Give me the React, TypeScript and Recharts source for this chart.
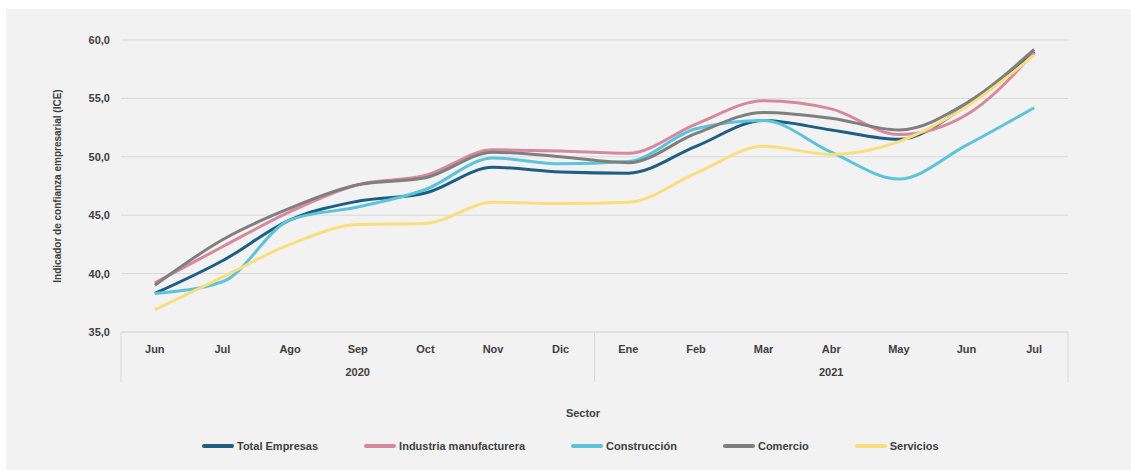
import React from "react";
import { ComposedChart, Line, XAxis, YAxis, CartesianGrid, Legend } from "recharts";

const months = ["Jun", "Jul", "Ago", "Sep", "Oct", "Nov", "Dic", "Ene", "Feb", "Mar", "Abr", "May", "Jun", "Jul"];
const years = ["2020", "2020", "2020", "2020", "2020", "2020", "2020", "2021", "2021", "2021", "2021", "2021", "2021", "2021"];
const yTicks = [35, 40, 45, 50, 55, 60];

const totalEmpresas = [38.3, 41.1, 44.6, 46.2, 46.9, 49.1, 48.7, 48.6, 50.9, 53.1, 52.3, 51.5, 54.4, 59.0];
const industria = [39.2, 42.3, 45.3, 47.6, 48.4, 50.6, 50.5, 50.3, 52.8, 54.8, 54.1, 51.9, 53.6, 58.9];
const construccion = [38.3, 39.3, 44.6, 45.7, 47.2, 49.9, 49.4, 49.6, 52.4, 53.1, 50.4, 48.1, 51.0, 54.2];
const comercio = [39.0, 42.9, 45.6, 47.6, 48.2, 50.4, 50.0, 49.5, 52.0, 53.8, 53.3, 52.3, 54.6, 59.2];
const servicios = [36.9, 39.7, 42.5, 44.2, 44.3, 46.1, 46.0, 46.1, 48.6, 50.9, 50.2, 51.3, 54.3, 58.7];

const series = [
  { key: "total", name: "Total Empresas", color: "#1D5E82", values: totalEmpresas },
  { key: "industria", name: "Industria manufacturera", color: "#D7889F", values: industria },
  { key: "construccion", name: "Construcción", color: "#5BC3DA", values: construccion },
  { key: "comercio", name: "Comercio", color: "#7F7F7F", values: comercio },
  { key: "servicios", name: "Servicios", color: "#F8DF7C", values: servicios },
];

const data = months.map((m, i) => {
  const row: Record<string, string | number> = { period: `${m} ${years[i]}`, month: m, year: years[i] };
  series.forEach((s) => (row[s.key] = s.values[i]));
  return row;
});

const W = 1125;
const H = 461;
const margin = { top: 31, right: 63, left: 45, bottom: 88 };
const Y_AXIS_W = 70;
const FONT = "'Liberation Sans', Arial, sans-serif";
const TEXT = "#404040";
const GRID = "#D9D9D9";

// half of one month's slot, so points sit in the middle of each slot
const halfBand = (W - margin.left - Y_AXIS_W - margin.right) / months.length / 2;

function MonthTick(props: any) {
  const { x, y, index } = props;
  const yr = years[index];
  const first = years.indexOf(yr);
  const last = years.lastIndexOf(yr);
  const mid = (first + last) / 2;
  return (
    <g>
      <text x={x} y={y + 18} textAnchor="middle" dominantBaseline="middle" fill={TEXT} fontSize={11} fontWeight="bold" fontFamily={FONT}>
        {months[index]}
      </text>
      {index === mid && (
        <text x={x} y={y + 41} textAnchor="middle" dominantBaseline="middle" fill={TEXT} fontSize={11} fontWeight="bold" fontFamily={FONT}>
          {yr}
        </text>
      )}
      {index === first && <line x1={x - halfBand} x2={x - halfBand} y1={y} y2={y + 50} stroke={GRID} />}
      {index === months.length - 1 && <line x1={x + halfBand} x2={x + halfBand} y1={y} y2={y + 50} stroke={GRID} />}
    </g>
  );
}

function LegendBox() {
  return (
    <div style={{ position: "relative", width: W, height: 60, fontFamily: FONT, color: TEXT, fontWeight: "bold", fontSize: 11 }}>
      <div style={{ position: "absolute", left: 577, top: 4, transform: "translateX(-50%)" }}>Sector</div>
      <div style={{ position: "absolute", left: 196, top: 36, display: "flex", gap: 46, alignItems: "center" }}>
        {series.map((s) => (
          <div key={s.key} style={{ display: "flex", alignItems: "center", gap: 3 }}>
            <span style={{ display: "inline-block", width: 32, height: 4, background: s.color, borderRadius: 2 }} />
            <span style={{ lineHeight: "14px" }}>{s.name}</span>
          </div>
        ))}
      </div>
    </div>
  );
}

export default function App() {
  return (
    <div style={{ position: "absolute", left: 0, top: 0, width: 1131, height: 470, background: "#FFFFFF" }}>
      <div style={{ position: "absolute", left: 6, top: 9, width: W, height: H, background: "#F2F2F2" }}>
        <ComposedChart width={W} height={H} data={data} margin={margin}>
          <CartesianGrid vertical={false} stroke={GRID} />
          <XAxis
            dataKey="period"
            interval={0}
            height={50}
            padding={{ left: halfBand, right: halfBand }}
            tickLine={false}
            tickSize={0}
            tickMargin={0}
            axisLine={{ stroke: GRID }}
            tick={<MonthTick />}
          />
          <YAxis
            width={Y_AXIS_W}
            domain={[35, 60]}
            ticks={yTicks}
            axisLine={false}
            tickLine={false}
            tickSize={0}
            tickMargin={11}
            tick={{ fill: TEXT, fontSize: 11, fontWeight: "bold", fontFamily: FONT }}
            tickFormatter={(v: number) => v.toFixed(1).replace(".", ",")}
            label={{
              value: "Indicador de confianza empresarial (ICE)",
              angle: -90,
              position: "insideLeft",
              offset: 6,
              style: { textAnchor: "middle", fill: TEXT, fontSize: 10, fontWeight: "bold", fontFamily: FONT },
            }}
          />
          {series.map((s) => (
            <Line
              key={s.key}
              type="monotone"
              dataKey={s.key}
              name={s.name}
              stroke={s.color}
              strokeWidth={3}
              dot={false}
              activeDot={false}
              isAnimationActive={false}
            />
          ))}
          <Legend
            layout="vertical"
            align="center"
            verticalAlign="middle"
            wrapperStyle={{ top: 394, left: 0, width: W }}
            content={<LegendBox />}
          />
        </ComposedChart>
      </div>
    </div>
  );
}
